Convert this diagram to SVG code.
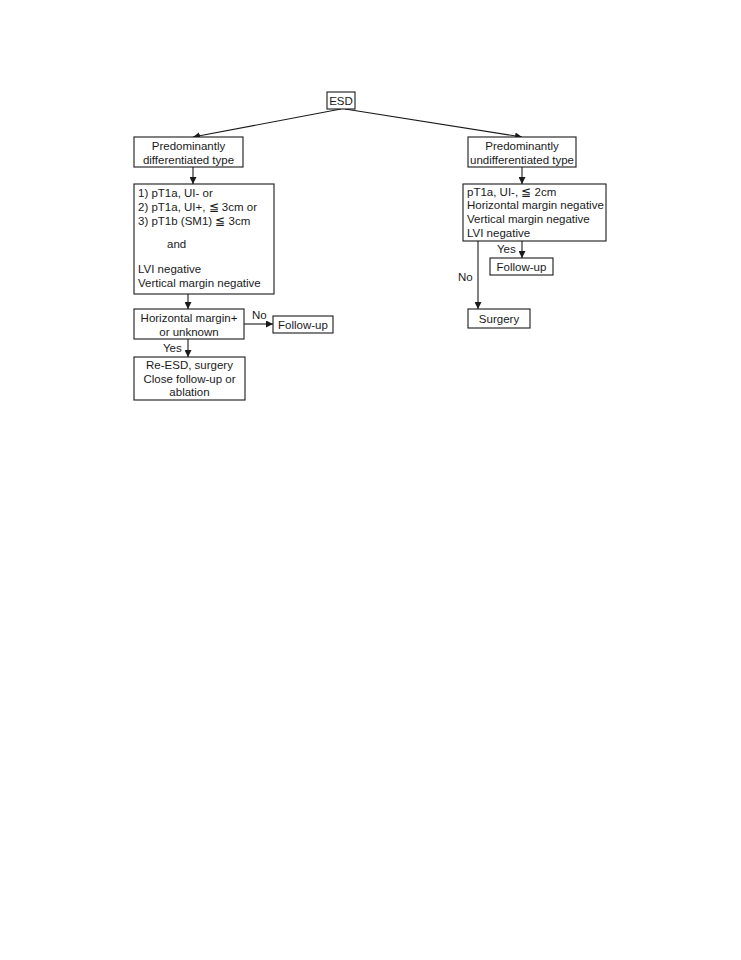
<svg xmlns="http://www.w3.org/2000/svg" width="741" height="960" viewBox="0 0 741 960">
<defs>
<marker id="ah" viewBox="0 0 10 10" refX="10" refY="5" markerWidth="7" markerHeight="7" markerUnits="userSpaceOnUse" orient="auto">
<path d="M0,0 L10,5 L0,10 z" fill="#1a1a1a"/>
</marker>
</defs>
<style>
.box{fill:#fff;stroke:#1a1a1a;stroke-width:1.1}
.t{font-family:"Liberation Sans",Arial,sans-serif;font-size:11.5px;fill:#1a1a1a}
.c{text-anchor:middle}
.ln{stroke:#1a1a1a;stroke-width:1.1;fill:none;marker-end:url(#ah)}
</style>
<rect width="741" height="960" fill="#fff"/>
<g id="connectors">
<line class="ln" x1="341" y1="109" x2="193" y2="137"/>
<line class="ln" x1="345" y1="109" x2="522" y2="137"/>
<line class="ln" x1="193" y1="167" x2="193" y2="184"/>
<line class="ln" x1="188" y1="294" x2="188" y2="309"/>
<line class="ln" x1="244" y1="324" x2="273" y2="324"/>
<text class="t" x="252" y="319">No</text>
<line class="ln" x1="188" y1="339" x2="188" y2="357"/>
<text class="t" x="163" y="352">Yes</text>
<line class="ln" x1="522" y1="167" x2="522" y2="184"/>
<line class="ln" x1="522" y1="241" x2="522" y2="258"/>
<text class="t" x="497" y="253">Yes</text>
<line class="ln" x1="478" y1="241" x2="478" y2="309"/>
<text class="t" x="458" y="281">No</text>
</g>
<g id="esd">
<rect class="box" x="327" y="92" width="28" height="17"/>
<text class="t c" x="341" y="105">ESD</text>
</g>
<g id="diff">
<rect class="box" x="134" y="137" width="109" height="30"/>
<text class="t c" x="188.5" y="150">Predominantly</text>
<text class="t c" x="188.5" y="164">differentiated type</text>
</g>
<g id="undiff">
<rect class="box" x="468" y="137" width="108" height="30"/>
<text class="t c" x="522" y="150">Predominantly</text>
<text class="t c" x="522" y="164">undifferentiated type</text>
</g>
<g id="criteria-diff">
<rect class="box" x="134" y="184" width="140" height="110"/>
<text class="t" x="138" y="197">1) pT1a, UI- or</text>
<text class="t" x="138" y="211">2) pT1a, UI+, ≦ 3cm or</text>
<text class="t" x="138" y="225">3) pT1b (SM1) ≦ 3cm</text>
<text class="t" x="167" y="248">and</text>
<text class="t" x="138" y="273">LVI negative</text>
<text class="t" x="138" y="287">Vertical margin negative</text>
</g>
<g id="horiz">
<rect class="box" x="134" y="309" width="110" height="30"/>
<text class="t c" x="189" y="322">Horizontal margin+</text>
<text class="t c" x="189" y="336">or unknown</text>
</g>
<g id="followup-left">
<rect class="box" x="273" y="316" width="60" height="17"/>
<text class="t c" x="303" y="329">Follow-up</text>
</g>
<g id="reesd">
<rect class="box" x="134" y="357" width="111" height="43"/>
<text class="t c" x="189.5" y="369">Re-ESD, surgery</text>
<text class="t c" x="189.5" y="383">Close follow-up or</text>
<text class="t c" x="189.5" y="396">ablation</text>
</g>
<g id="criteria-undiff">
<rect class="box" x="463" y="184" width="143" height="57"/>
<text class="t" x="467" y="196">pT1a, UI-, ≦ 2cm</text>
<text class="t" x="467" y="209">Horizontal margin negative</text>
<text class="t" x="467" y="223">Vertical margin negative</text>
<text class="t" x="467" y="237">LVI negative</text>
</g>
<g id="followup-right">
<rect class="box" x="490" y="258" width="63" height="17"/>
<text class="t c" x="521.5" y="271">Follow-up</text>
</g>
<g id="surgery">
<rect class="box" x="468" y="309" width="62" height="19"/>
<text class="t c" x="499" y="323">Surgery</text>
</g>
</svg>
